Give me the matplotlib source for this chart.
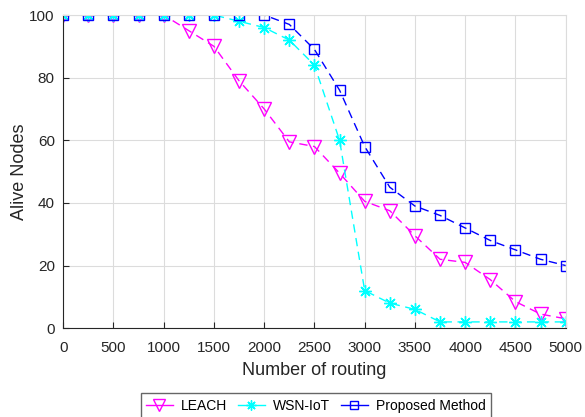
import numpy as np
import matplotlib.pyplot as plt

plt.rcParams['font.family'] = ['Liberation Sans', 'DejaVu Sans']

# routing rounds
rounds = [0, 250, 500, 750, 1000, 1250, 1500, 1750, 2000, 2250, 2500,
          2750, 3000, 3250, 3500, 3750, 4000, 4250, 4500, 4750, 5000]

leach = [100, 100, 100, 100, 100, 95, 90, 79, 70, 59.5, 58,
         49.5, 40.5, 37.5, 29.5, 22, 21, 15.5, 8.5, 4.5, 3]
wsn_iot = [100, 100, 100, 100, 100, 100, 100, 98, 96, 92, 84,
           60, 12, 8, 6, 2, 2, 2, 2, 2, 2]
proposed = [100, 100, 100, 100, 100, 100, 100, 100, 100, 97, 89,
            76, 58, 45, 39, 36, 32, 28, 25, 22, 20]

fig = plt.figure(figsize=(5.85, 4.17), dpi=100)
ax = fig.add_axes([0.108, 0.213, 0.859, 0.751])

ax.plot(rounds, leach, '--', color='#FF00FF', marker='v', markersize=10,
        markerfacecolor='none', linewidth=1, dashes=(6, 4), label='LEACH')
ax.plot(rounds, wsn_iot, '--', color='#00FFFF', marker=(8, 2, 0), markersize=9,
        linewidth=1, dashes=(6, 4), label='WSN-IoT')
ax.plot(rounds, proposed, '--', color='#0000FF', marker='s', markersize=7,
        markerfacecolor='none', linewidth=1, dashes=(6, 4), label='Proposed Method')

ax.set_xlim(0, 5000)
ax.set_ylim(0, 100)
ax.set_xticks(np.arange(0, 5001, 500))
ax.set_yticks(np.arange(0, 101, 20))
ax.grid(True, color='#dcdcdc', linewidth=0.8)
ax.set_axisbelow(True)
for s in ['top', 'right']:
    ax.spines[s].set_color('#dcdcdc')
for s in ['left', 'bottom']:
    ax.spines[s].set_color('#262626')
ax.tick_params(direction='in', length=4, labelsize=11, colors='#262626',
               top=False, right=False)
ax.tick_params(axis='x', pad=9)
ax.tick_params(axis='y', pad=6)
ax.set_xlabel('Number of routing', fontsize=13, color='#262626', labelpad=5)
ax.set_ylabel('Alive Nodes', fontsize=13, color='#262626', labelpad=1)

leg = fig.legend(loc='lower center', bbox_to_anchor=(0.54, -0.02), ncol=3,
                 fontsize=10, frameon=True, fancybox=False, edgecolor='#404040',
                 handlelength=1.9, columnspacing=0.8, handletextpad=0.6,
                 borderpad=0.4, markerscale=0.8)
leg.get_frame().set_linewidth(1)
for h in leg.get_lines():
    h.set_linestyle('-')

fig.savefig('out.png', dpi=100)
